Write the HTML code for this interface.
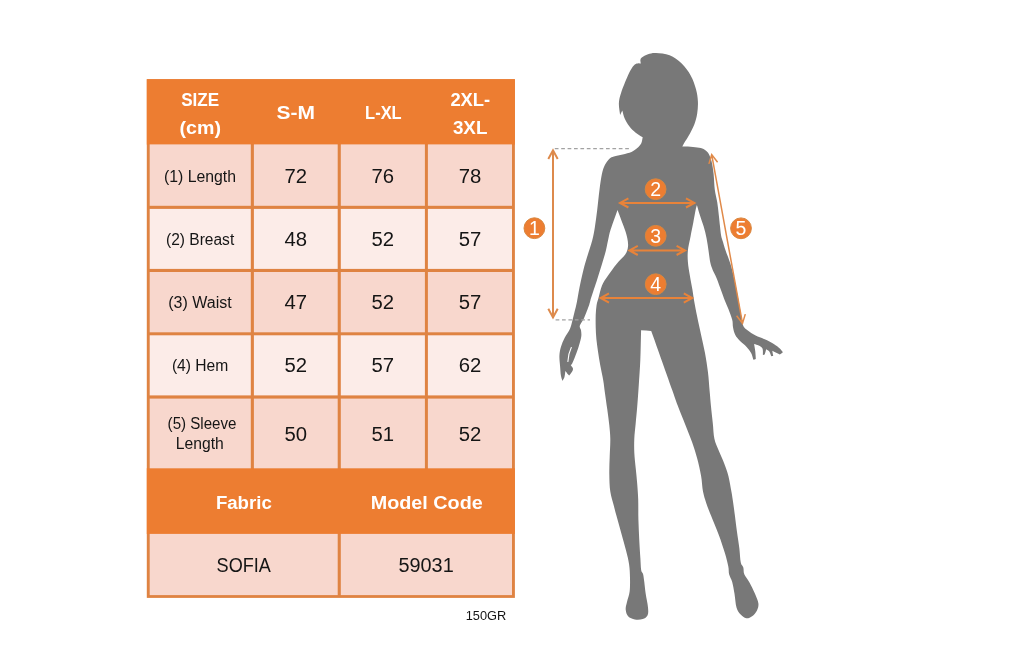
<!DOCTYPE html>
<html lang="en">
<head>
<meta charset="utf-8">
<title>Size chart</title>
<style>
html,body{margin:0;padding:0;background:#fff;}
body{width:1024px;height:661px;overflow:hidden;}
svg{display:block;}
svg text{font-family:"Liberation Sans",sans-serif;}
</style>
</head>
<body>
<svg width="1024" height="661" viewBox="0 0 1024 661">
<rect width="1024" height="661" fill="#fff"/>
<rect x="146.8" y="79.2" width="368.1" height="518.7" fill="#DF8342"/>
<rect x="146.8" y="79.2" width="368.1" height="65.4" fill="#ED7D31"/>
<rect x="146.8" y="468.2" width="368.1" height="65.8" fill="#ED7D31"/>
<rect x="149.7" y="144.4" width="101.1" height="61.4" fill="#F8D7CD"/>
<rect x="253.9" y="144.4" width="83.8" height="61.4" fill="#F8D7CD"/>
<rect x="340.8" y="144.4" width="84.1" height="61.4" fill="#F8D7CD"/>
<rect x="427.9" y="144.4" width="84.1" height="61.4" fill="#F8D7CD"/>
<rect x="149.7" y="208.9" width="101.1" height="60.0" fill="#FCECE8"/>
<rect x="253.9" y="208.9" width="83.8" height="60.0" fill="#FCECE8"/>
<rect x="340.8" y="208.9" width="84.1" height="60.0" fill="#FCECE8"/>
<rect x="427.9" y="208.9" width="84.1" height="60.0" fill="#FCECE8"/>
<rect x="149.7" y="272.0" width="101.1" height="60.3" fill="#F8D7CD"/>
<rect x="253.9" y="272.0" width="83.8" height="60.3" fill="#F8D7CD"/>
<rect x="340.8" y="272.0" width="84.1" height="60.3" fill="#F8D7CD"/>
<rect x="427.9" y="272.0" width="84.1" height="60.3" fill="#F8D7CD"/>
<rect x="149.7" y="335.3" width="101.1" height="60.1" fill="#FCECE8"/>
<rect x="253.9" y="335.3" width="83.8" height="60.1" fill="#FCECE8"/>
<rect x="340.8" y="335.3" width="84.1" height="60.1" fill="#FCECE8"/>
<rect x="427.9" y="335.3" width="84.1" height="60.1" fill="#FCECE8"/>
<rect x="149.7" y="398.6" width="101.1" height="69.7" fill="#F8D7CD"/>
<rect x="253.9" y="398.6" width="83.8" height="69.7" fill="#F8D7CD"/>
<rect x="340.8" y="398.6" width="84.1" height="69.7" fill="#F8D7CD"/>
<rect x="427.9" y="398.6" width="84.1" height="69.7" fill="#F8D7CD"/>
<rect x="149.7" y="533.9" width="188" height="61.2" fill="#F8D7CD"/>
<rect x="340.8" y="533.9" width="171.2" height="61.2" fill="#F8D7CD"/>
<text x="181.2" y="106.4" font-size="19.2" fill="#FFFFFF" font-weight="700" textLength="38.0" lengthAdjust="spacingAndGlyphs">SIZE</text>
<text x="179.6" y="133.5" font-size="19.2" fill="#FFFFFF" font-weight="700" textLength="41.4" lengthAdjust="spacingAndGlyphs">(cm)</text>
<text x="276.6" y="119.4" font-size="19.2" fill="#FFFFFF" font-weight="700" textLength="38.4" lengthAdjust="spacingAndGlyphs">S-M</text>
<text x="365.1" y="119.4" font-size="19.2" fill="#FFFFFF" font-weight="700" textLength="36.6" lengthAdjust="spacingAndGlyphs">L-XL</text>
<text x="450.4" y="106.4" font-size="19.2" fill="#FFFFFF" font-weight="700" textLength="39.8" lengthAdjust="spacingAndGlyphs">2XL-</text>
<text x="452.9" y="133.5" font-size="19.2" fill="#FFFFFF" font-weight="700" textLength="34.5" lengthAdjust="spacingAndGlyphs">3XL</text>
<text x="215.9" y="509.0" font-size="19.2" fill="#FFFFFF" font-weight="700" textLength="55.9" lengthAdjust="spacingAndGlyphs">Fabric</text>
<text x="370.7" y="509.0" font-size="19.2" fill="#FFFFFF" font-weight="700" textLength="112.1" lengthAdjust="spacingAndGlyphs">Model Code</text>
<text x="164.0" y="181.8" font-size="16" fill="#151515" textLength="72.0" lengthAdjust="spacingAndGlyphs">(1) Length</text>
<text x="166.0" y="244.7" font-size="16" fill="#151515" textLength="68.2" lengthAdjust="spacingAndGlyphs">(2) Breast</text>
<text x="168.3" y="308.1" font-size="16" fill="#151515" textLength="63.4" lengthAdjust="spacingAndGlyphs">(3) Waist</text>
<text x="171.9" y="371.0" font-size="16" fill="#151515" textLength="56.4" lengthAdjust="spacingAndGlyphs">(4) Hem</text>
<text x="167.6" y="428.6" font-size="16" fill="#151515" textLength="68.9" lengthAdjust="spacingAndGlyphs">(5) Sleeve</text>
<text x="175.8" y="449.3" font-size="16" fill="#151515" textLength="48.0" lengthAdjust="spacingAndGlyphs">Length</text>
<text x="284.4" y="182.8" font-size="19.4" fill="#151515" textLength="22.6" lengthAdjust="spacingAndGlyphs">72</text>
<text x="371.4" y="182.8" font-size="19.4" fill="#151515" textLength="22.6" lengthAdjust="spacingAndGlyphs">76</text>
<text x="458.7" y="182.8" font-size="19.4" fill="#151515" textLength="22.6" lengthAdjust="spacingAndGlyphs">78</text>
<text x="284.4" y="246.1" font-size="19.4" fill="#151515" textLength="22.6" lengthAdjust="spacingAndGlyphs">48</text>
<text x="371.4" y="246.1" font-size="19.4" fill="#151515" textLength="22.6" lengthAdjust="spacingAndGlyphs">52</text>
<text x="458.7" y="246.1" font-size="19.4" fill="#151515" textLength="22.6" lengthAdjust="spacingAndGlyphs">57</text>
<text x="284.4" y="309.1" font-size="19.4" fill="#151515" textLength="22.6" lengthAdjust="spacingAndGlyphs">47</text>
<text x="371.4" y="309.1" font-size="19.4" fill="#151515" textLength="22.6" lengthAdjust="spacingAndGlyphs">52</text>
<text x="458.7" y="309.1" font-size="19.4" fill="#151515" textLength="22.6" lengthAdjust="spacingAndGlyphs">57</text>
<text x="284.4" y="372.2" font-size="19.4" fill="#151515" textLength="22.6" lengthAdjust="spacingAndGlyphs">52</text>
<text x="371.4" y="372.2" font-size="19.4" fill="#151515" textLength="22.6" lengthAdjust="spacingAndGlyphs">57</text>
<text x="458.7" y="372.2" font-size="19.4" fill="#151515" textLength="22.6" lengthAdjust="spacingAndGlyphs">62</text>
<text x="284.4" y="440.5" font-size="19.4" fill="#151515" textLength="22.6" lengthAdjust="spacingAndGlyphs">50</text>
<text x="371.4" y="440.5" font-size="19.4" fill="#151515" textLength="22.6" lengthAdjust="spacingAndGlyphs">51</text>
<text x="458.7" y="440.5" font-size="19.4" fill="#151515" textLength="22.6" lengthAdjust="spacingAndGlyphs">52</text>
<text x="216.6" y="572.2" font-size="19.4" fill="#151515" textLength="54.3" lengthAdjust="spacingAndGlyphs">SOFIA</text>
<text x="398.4" y="572.2" font-size="19.4" fill="#151515" textLength="55.3" lengthAdjust="spacingAndGlyphs">59031</text>
<text x="465.7" y="619.6" font-size="12.6" fill="#151515" textLength="40.5" lengthAdjust="spacingAndGlyphs">150GR</text>
<path d="M656.0 53.0C659.6 53.2 665.3 53.5 669.6 55.3C673.9 57.1 678.2 60.2 681.7 63.6C685.2 67.0 688.4 71.4 690.8 75.7C693.2 80.0 694.8 85.0 696.0 89.3C697.2 93.6 697.7 97.4 697.9 101.4C698.1 105.4 697.8 109.6 697.2 113.5C696.6 117.4 695.5 121.3 694.3 124.6C693.1 127.9 691.5 130.6 690.0 133.4C688.5 136.2 686.5 139.1 685.2 141.3C683.9 143.5 683.3 144.8 682.3 146.6C685.9 146.7 689.9 146.7 693.0 146.9C696.1 147.2 698.7 147.5 700.8 148.1C702.9 148.7 704.4 149.5 705.7 150.5C707.0 151.5 707.8 152.2 708.8 154.0C709.8 155.8 710.8 158.3 711.6 161.6C712.4 164.9 713.1 169.3 713.6 174.0C714.1 178.7 714.2 185.0 714.8 189.7C715.4 194.4 716.6 198.0 717.2 202.1C717.9 206.2 718.2 210.2 718.7 214.2C719.2 218.2 719.6 222.7 720.0 226.3C720.4 229.9 720.7 233.4 721.2 236.0C721.7 238.6 722.3 239.6 723.0 242.0C723.7 244.4 724.5 247.3 725.6 250.5C726.7 253.7 728.5 258.1 729.6 261.4C730.7 264.6 731.2 265.9 732.2 270.0C733.2 274.1 734.8 281.0 735.8 286.0C736.8 291.0 737.7 295.7 738.5 300.0C739.3 304.3 740.0 308.5 740.6 312.0C741.2 315.5 741.7 318.8 742.2 321.2C742.7 323.6 742.7 324.9 743.6 326.4C744.5 327.9 745.5 328.8 747.5 330.3C749.5 331.8 752.7 334.1 755.6 335.6C758.5 337.1 761.7 337.9 764.7 339.3C767.7 340.7 771.3 342.4 773.8 343.9C776.3 345.4 778.3 347.0 779.8 348.4C781.3 349.8 781.9 350.9 782.9 352.2C781.9 353.0 780.8 353.7 779.8 354.5C778.8 354.0 778.0 353.6 776.8 353.0C775.5 352.4 773.8 351.5 772.3 350.7C772.6 352.5 772.9 354.2 773.2 356.0C772.6 356.1 771.9 356.1 771.3 356.2C770.6 354.6 770.1 352.6 769.3 351.4C768.4 350.2 767.2 349.9 766.2 349.2C765.7 351.0 765.2 352.7 764.7 354.5C764.1 354.7 763.5 355.0 762.9 355.2C762.8 352.9 763.2 350.0 762.5 348.4C761.8 346.8 760.1 346.1 758.7 345.4C757.3 344.6 755.6 344.4 754.1 343.9C754.5 346.4 755.0 348.9 755.3 351.4C755.6 353.9 755.6 356.5 755.8 359.0C755.0 359.3 754.2 359.5 753.4 359.8C752.6 357.5 752.2 355.1 751.1 353.0C750.0 350.9 748.5 348.9 746.6 346.9C744.7 344.9 741.7 342.8 739.8 340.8C737.9 338.8 736.3 337.1 735.2 334.8C734.1 332.5 733.5 329.7 733.0 327.2C732.5 324.7 733.0 322.7 732.2 319.7C731.4 316.7 729.7 312.4 728.4 309.1C727.1 305.8 725.8 302.9 724.6 300.0C723.5 297.1 722.9 295.1 721.5 291.4C720.1 287.7 718.0 281.6 716.5 278.0C715.0 274.4 713.7 272.6 712.7 270.0C711.7 267.4 711.0 265.9 710.3 262.6C709.6 259.4 709.1 254.5 708.5 250.5C707.9 246.5 707.4 242.4 706.6 238.4C705.8 234.4 704.8 230.3 703.6 226.3C702.4 222.3 700.7 217.8 699.6 214.2C698.5 210.6 697.8 208.1 696.9 205.0C696.5 206.7 696.2 207.1 695.6 210.0C695.0 212.9 694.1 218.1 693.3 222.5C692.4 226.9 691.4 232.0 690.5 236.7C689.6 241.3 688.3 246.2 687.9 250.4C687.5 254.6 687.6 257.8 687.9 262.0C688.2 266.2 689.1 271.2 689.9 275.8C690.6 280.4 691.7 285.3 692.4 289.5C693.1 293.7 693.4 296.6 694.2 301.2C695.0 305.8 696.1 311.3 697.2 316.8C698.3 322.3 699.7 328.4 701.0 334.4C702.3 340.4 703.8 346.6 705.0 353.0C706.2 359.4 707.2 366.3 708.0 372.6C708.8 378.9 709.1 385.3 709.6 390.8C710.1 396.3 710.4 400.2 710.9 405.6C711.4 411.0 712.2 417.7 712.8 423.2C713.4 428.7 713.4 434.2 714.4 438.8C715.4 443.4 717.0 446.3 718.7 450.5C720.4 454.7 722.9 459.9 724.5 464.2C726.1 468.4 727.2 471.4 728.4 476.0C729.5 480.6 730.6 487.1 731.4 491.6C732.2 496.1 732.6 499.0 733.2 503.0C733.8 507.0 734.3 510.9 734.9 515.6C735.5 520.3 736.1 525.8 736.9 531.3C737.6 536.8 738.8 543.6 739.4 548.8C740.0 554.0 740.1 559.4 740.8 562.5C741.4 565.6 742.7 565.4 743.3 567.4C743.9 569.4 743.3 571.8 744.3 574.2C745.3 576.6 747.4 578.7 749.2 582.0C751.0 585.3 753.5 590.2 755.0 593.8C756.5 597.4 758.1 600.7 758.4 603.5C758.7 606.3 758.0 608.3 757.0 610.4C756.0 612.5 753.9 614.9 752.1 616.2C750.3 617.5 748.2 618.5 746.3 618.2C744.3 617.9 742.0 616.1 740.4 614.3C738.8 612.5 737.5 610.8 736.5 607.4C735.5 604.0 735.2 598.0 734.5 593.8C733.8 589.6 733.1 585.3 732.2 582.0C731.3 578.7 729.8 576.8 729.1 574.2C728.5 571.6 729.0 570.0 728.3 566.4C727.6 562.8 726.4 557.9 724.8 552.7C723.2 547.5 721.2 541.4 718.9 535.2C716.6 529.0 713.1 521.0 711.0 515.6C708.9 510.2 707.5 507.0 706.2 503.0C704.9 499.0 703.9 496.1 703.0 491.6C702.1 487.1 702.1 481.5 701.1 476.0C700.1 470.5 698.7 463.9 697.2 458.4C695.7 452.8 694.2 448.2 692.3 442.7C690.3 437.2 687.9 431.4 685.5 425.2C683.1 419.0 679.9 411.5 677.7 405.6C675.5 399.7 674.5 396.4 672.2 390.0C669.9 383.6 666.4 373.7 664.0 367.0C661.6 360.3 660.1 356.0 658.0 350.0C655.9 344.0 653.5 337.3 651.2 331.0C647.8 330.8 644.5 330.5 641.1 330.3C640.8 340.4 640.7 351.4 640.3 360.5C639.9 369.6 639.3 377.2 638.8 384.7C638.3 392.2 637.8 399.2 637.3 405.6C636.8 412.0 636.2 417.7 635.7 423.2C635.2 428.7 634.5 433.9 634.3 438.8C634.1 443.7 634.1 447.6 634.3 452.5C634.5 457.4 635.2 462.9 635.7 468.1C636.2 473.3 636.8 478.6 637.2 483.8C637.6 489.0 638.0 493.4 638.2 499.4C638.4 505.3 638.2 512.9 638.4 519.5C638.6 526.1 638.9 532.5 639.2 539.0C639.5 545.5 640.1 553.4 640.4 558.6C640.7 563.8 640.8 567.7 641.2 570.3C641.7 572.9 642.6 572.2 643.1 574.2C643.6 576.2 643.9 578.7 644.3 582.0C644.7 585.3 645.1 589.6 645.7 593.8C646.3 598.0 647.7 603.8 648.0 607.4C648.3 611.0 648.5 613.2 647.6 615.2C646.7 617.2 644.8 618.4 642.7 619.1C640.6 619.8 637.3 620.0 634.9 619.5C632.5 619.0 629.6 617.9 628.1 616.2C626.6 614.5 625.9 611.8 625.7 609.4C625.5 607.0 626.5 604.5 627.1 601.6C627.8 598.7 629.1 595.7 629.6 591.8C630.1 587.9 630.1 582.6 630.0 578.1C629.9 573.6 629.8 569.0 629.1 564.5C628.5 560.0 627.4 556.0 626.1 550.8C624.8 545.6 622.9 539.1 621.3 533.2C619.7 527.3 617.6 520.1 616.4 515.6C615.2 511.1 614.9 510.0 613.9 506.0C612.9 502.0 611.1 496.9 610.3 491.6C609.5 486.3 609.4 479.9 609.3 474.0C609.2 468.1 609.5 462.3 609.7 456.4C609.9 450.5 610.4 444.0 610.3 438.8C610.2 433.6 609.8 430.1 609.3 425.2C608.8 420.3 608.0 415.0 607.3 409.5C606.5 404.0 605.5 396.9 604.8 392.0C604.1 387.1 604.0 384.7 603.2 380.2C602.4 375.7 601.1 369.8 600.2 365.0C599.3 360.2 598.6 355.7 598.0 351.4C597.4 347.1 596.8 343.3 596.4 339.3C596.0 335.3 595.8 331.2 595.7 327.2C595.6 323.2 595.6 318.8 595.7 315.1C595.9 311.4 596.1 308.0 596.6 305.0C597.1 302.0 597.8 300.6 598.7 297.3C599.6 294.1 600.5 289.1 602.0 285.5C603.5 281.9 605.5 279.4 607.9 275.8C610.3 272.2 613.7 267.6 616.6 264.0C619.5 260.4 623.5 257.2 625.4 254.3C627.3 251.4 627.7 249.1 628.0 246.5C628.3 243.9 627.9 241.4 627.4 238.7C626.9 235.9 625.9 232.7 625.0 230.0C624.1 227.3 623.5 225.8 622.2 222.5C621.0 219.2 619.1 214.2 617.5 210.0C615.5 215.7 613.0 222.6 611.5 227.0C610.0 231.4 609.7 232.8 608.8 236.7C607.9 240.6 607.0 245.8 605.9 250.4C604.8 255.0 603.5 259.1 602.0 264.0C600.5 268.9 598.9 274.1 597.1 279.7C595.3 285.2 592.6 293.2 591.3 297.3C590.0 301.4 590.5 301.0 589.3 304.5C588.1 308.0 585.6 314.7 584.0 318.2C582.4 321.7 580.3 323.7 579.8 325.7C579.3 327.7 580.8 328.5 581.0 330.3C581.2 332.1 581.6 333.8 581.3 336.3C581.0 338.8 580.0 342.1 579.0 345.4C578.0 348.7 576.4 353.0 575.3 356.0C574.2 359.0 573.0 362.0 572.2 363.5C571.4 365.0 571.2 364.5 570.7 365.0C571.5 366.3 572.9 367.5 573.0 368.8C573.1 370.1 572.1 371.5 571.5 372.6C570.9 373.7 570.0 374.6 569.2 375.6C568.7 375.1 568.3 374.9 567.7 374.1C567.1 373.4 566.2 372.1 565.4 371.1C565.1 373.1 564.9 375.6 564.4 377.2C563.9 378.8 563.1 379.7 562.4 380.9C561.9 379.1 561.3 378.0 560.9 375.6C560.5 373.2 560.4 369.9 560.1 366.6C559.9 363.3 559.3 359.3 559.4 356.0C559.5 352.7 560.0 349.9 560.9 346.9C561.8 343.9 563.2 340.8 564.7 337.8C566.2 334.8 568.8 331.5 570.0 328.7C571.2 325.9 571.5 324.0 572.2 321.2C573.0 318.4 573.7 315.3 574.5 312.1C575.3 308.9 576.1 306.1 576.9 302.0C577.7 297.9 578.4 292.8 579.5 287.5C580.6 282.2 582.1 275.2 583.4 270.0C584.7 264.8 585.8 261.2 587.3 256.3C588.8 251.4 590.9 245.5 592.2 240.6C593.5 235.7 594.1 232.1 594.9 227.0C595.7 221.9 596.4 216.2 597.2 210.0C598.0 203.8 598.7 195.7 599.5 189.7C600.3 183.7 601.0 178.2 601.9 174.0C602.8 169.8 603.7 167.3 605.0 164.7C606.3 162.1 608.2 159.8 609.7 158.4C611.2 157.0 611.7 157.1 613.9 156.4C616.1 155.7 619.8 155.1 622.7 154.4C625.6 153.7 629.1 153.1 631.5 152.0C633.9 150.9 635.7 149.6 637.3 148.1C638.9 146.6 640.4 145.0 641.3 143.2C642.2 141.4 642.2 139.3 642.7 137.3C640.3 135.7 637.6 134.3 635.4 132.5C633.2 130.7 631.3 128.9 629.5 126.6C627.7 124.3 626.0 121.5 624.8 118.8C623.6 116.1 623.1 113.3 622.3 110.5C621.6 112.0 620.8 113.5 620.1 115.0C619.7 111.0 618.7 106.8 618.9 103.0C619.1 99.2 619.8 96.7 621.2 92.4C622.6 88.1 625.6 81.0 627.2 77.2C628.8 73.4 629.7 71.6 631.0 69.5C632.3 67.4 633.5 65.6 634.8 64.6C636.0 63.5 637.5 63.4 638.5 63.2C639.5 63.0 640.0 63.5 640.8 63.6C640.7 62.4 640.2 61.0 640.4 60.0C640.6 59.0 640.5 58.4 641.8 57.4C643.1 56.4 645.6 54.9 648.0 54.2C650.4 53.5 652.4 52.8 656.0 53.0Z" fill="#787878"/>
<path d="M571.3 347.6Q568.2 354 567.9 361.5" stroke="#fff" stroke-width="1.1" fill="none" stroke-linecap="round"/>
<path d="M554.8 148.6H630M555.6 319.8H590" stroke="#A2A2A2" stroke-width="1.2" stroke-dasharray="3.7 2.7" fill="none"/>
<path d="M553.0 150.3L553.0 317.4M548.3 158.9L553.0 150.3L557.7 158.9M548.3 308.8L553.0 317.4L557.7 308.8" stroke="#DD8A4C" stroke-width="2.0" fill="none" stroke-linejoin="miter" stroke-linecap="butt"/>
<path d="M620.0 202.9L694.4 202.9M628.4 207.5L620.0 202.9L628.4 198.3M686.0 207.5L694.4 202.9L686.0 198.3" stroke="#E8833A" stroke-width="2.0" fill="none" stroke-linejoin="miter" stroke-linecap="butt"/>
<path d="M629.4 250.4L685.0 250.4M637.8 255.0L629.4 250.4L637.8 245.8M676.6 255.0L685.0 250.4L676.6 245.8" stroke="#E8833A" stroke-width="2.0" fill="none" stroke-linejoin="miter" stroke-linecap="butt"/>
<path d="M600.6 298.0L692.2 298.0M609.0 302.6L600.6 298.0L609.0 293.4M683.8 302.6L692.2 298.0L683.8 293.4" stroke="#E8833A" stroke-width="2.0" fill="none" stroke-linejoin="miter" stroke-linecap="butt"/>
<path d="M711.7 154.6L742.5 323.4M708.9 163.9L711.7 154.6L717.6 162.3M736.6 315.7L742.5 323.4L745.3 314.1" stroke="#E08A4A" stroke-width="1.5" fill="none" stroke-linejoin="miter" stroke-linecap="butt"/>
<circle cx="534.4" cy="228.2" r="10.4" fill="#ED7D31" stroke="#D9873F" stroke-width="1"/>
<text x="534.4" y="235.2" font-size="19.5" fill="#fff" text-anchor="middle">1</text>
<circle cx="655.6" cy="189.2" r="10.4" fill="#ED7D31" stroke="#D9873F" stroke-width="1"/>
<text x="655.6" y="196.2" font-size="19.5" fill="#fff" text-anchor="middle">2</text>
<circle cx="655.7" cy="235.8" r="10.4" fill="#ED7D31" stroke="#D9873F" stroke-width="1"/>
<text x="655.7" y="242.8" font-size="19.5" fill="#fff" text-anchor="middle">3</text>
<circle cx="655.7" cy="284.2" r="10.4" fill="#ED7D31" stroke="#D9873F" stroke-width="1"/>
<text x="655.7" y="291.2" font-size="19.5" fill="#fff" text-anchor="middle">4</text>
<circle cx="741.0" cy="228.3" r="10.4" fill="#ED7D31" stroke="#D9873F" stroke-width="1"/>
<text x="741.0" y="235.3" font-size="19.5" fill="#fff" text-anchor="middle">5</text>
</svg>
</body>
</html>
